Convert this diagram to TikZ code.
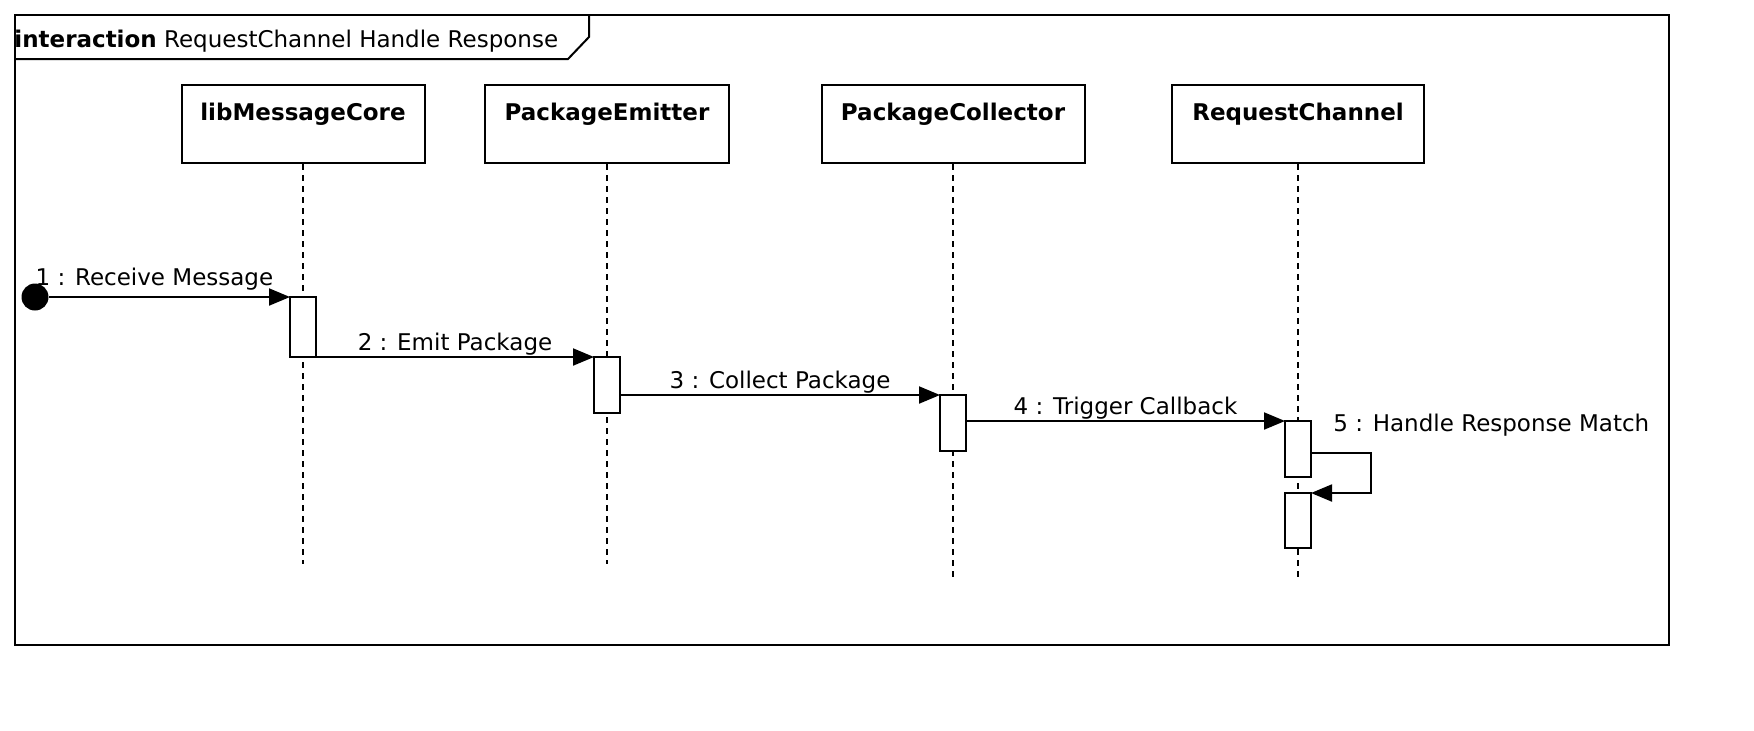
\documentclass[tikz,border=0pt]{standalone}
\usepackage{fontspec}
\setmainfont{DejaVu Sans}
\usetikzlibrary{arrows.meta}

\begin{document}
\begin{tikzpicture}[
    x=0.5pt,
    y=-0.5pt,
    every node/.style={font=\fontsize{11.5pt}{13pt}\selectfont, inner sep=0pt},
    objbox/.style={draw, line width=1pt, fill=white, text height=17.5pt, text depth=21.5pt, font=\fontsize{11.5pt}{13pt}\selectfont\bfseries},
    lifeline/.style={line width=0.9pt, dash pattern=on 3pt off 2.5pt},
    actbox/.style={draw, line width=1pt, outer sep=0pt, fill=white, minimum width=13pt, minimum height=28pt},
    msg/.style={line width=1pt, -{Triangle[length=10.5pt,width=8.5pt]}},
    msglabel/.style={midway, anchor=base, yshift=3.5pt}
]

    \useasboundingbox (0,0) rectangle (1754,730);

    \draw[line width=1pt] (15,15) rectangle (1669,645);
    \draw[line width=1pt] (15,59) -- (568,59) -- (589,37) -- (589,15);
    \node[anchor=base west] (title) at (14,47) {\textbf{interaction} RequestChannel Handle Response};

    \node[objbox, minimum width=121.5pt] (core) at (303,124) {libMessageCore};
    \node[objbox, minimum width=122pt] (emitter) at (607,124) {PackageEmitter};
    \node[objbox, minimum width=131.5pt] (collector) at (953,124) {PackageCollector};
    \node[objbox, minimum width=126pt] (channel) at (1298,124) {RequestChannel};

    \coordinate (coreEnd) at (303,564);
    \coordinate (emitterEnd) at (607,564);
    \coordinate (collectorEnd) at (953,578);
    \coordinate (channelEnd) at (1298,578);

    \draw[lifeline] (core) -- (coreEnd);
    \draw[lifeline] (emitter) -- (emitterEnd);
    \draw[lifeline] (collector) -- (collectorEnd);
    \draw[lifeline] (channel) -- (channelEnd);

    \node[actbox, minimum height=30pt] (act1) at (303,327) {};
    \node[actbox] (act2) at (607,385) {};
    \node[actbox] (act3) at (953,423) {};
    \node[actbox] (act4a) at (1298,449) {};
    \node[actbox, minimum height=27.5pt] (act4b) at (1298,520.5) {};

    \node[circle, fill, minimum size=13.5pt] (start) at (35,297) {};

    \draw[msg] (start) -- node[midway, anchor=base, xshift=-7.5pt, yshift=6pt] {1 : Receive Message} (act1.north west);
    \draw[msg] (act1.south east) -- node[msglabel] {2 : Emit Package} (act2.north west);
    \draw[msg] (act2.east |- act3.north) -- node[msglabel] {3 : Collect Package} (act3.north west);
    \draw[msg] (act3.east |- act4a.north) -- node[msglabel] {4 : Trigger Callback} (act4a.north west);

    \draw[msg] ([yshift=-2pt]act4a.east) -- ++(60,0) |- (act4b.north east);
    \node[anchor=base west] (selflabel) at ([xshift=11pt, yshift=-5pt]act4a.north east) {5 : Handle Response Match};

\end{tikzpicture}
\end{document}
